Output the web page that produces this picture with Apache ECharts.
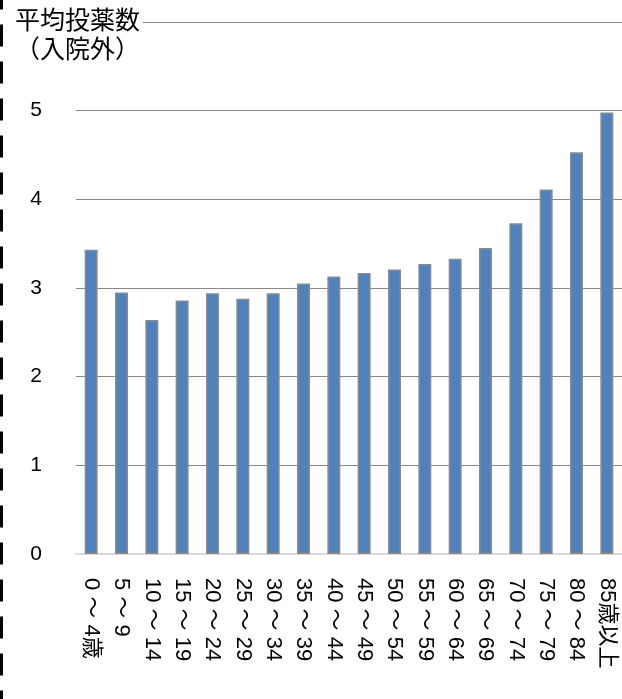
<!DOCTYPE html>
<html>
<head>
<meta charset="utf-8">
<script src="https://cdn.jsdelivr.net/npm/echarts@6/dist/echarts.min.js"></script>
<style>
  html, body { margin: 0; padding: 0; background: #fff; }
  #chart { width: 622px; height: 699px; }
</style>
</head>
<body>
<div id="chart"></div>
<script>
// 年齢階級別 平均投薬数（入院外）
const categories = ['0～4歳', '5～9', '10～14', '15～19', '20～24', '25～29', '30～34', '35～39', '40～44',
  '45～49', '50～54', '55～59', '60～64', '65～69', '70～74', '75～79', '80～84', '85歳以上']
const values = [3.43, 2.95, 2.64, 2.86, 2.94, 2.88, 2.94, 3.05, 3.13,
  3.17, 3.21, 3.27, 3.33, 3.45, 3.73, 4.11, 4.53, 4.98]
const yTicks = [0, 1, 2, 3, 4, 5] // 6 は軸の上端（ラベルなし）

const font = '"Liberation Sans", "Noto Sans CJK JP", sans-serif'
const myChart = echarts.init(document.getElementById('chart'))

const option = {
  backgroundColor: '#fff',
  animation: false,
  title: {
    text: '平均投薬数\n（入院外）',
    left: 12,
    top: 5,
    z: 10,
    padding: [0, 3, 0, 3],
    backgroundColor: '#fff',
    textStyle: {
      color: '#000',
      fontFamily: '"Noto Sans CJK JP", sans-serif',
      fontSize: 25,
      fontWeight: 'normal',
      lineHeight: 29
    }
  },
  grid: {
    left: 76,
    top: 22,
    width: 553,
    height: 532
  },
  xAxis: {
    type: 'category',
    data: categories,
    axisLine: { show: true, lineStyle: { color: '#d9d9d9', width: 2 } },
    axisTick: { show: false },
    axisLabel: {
      interval: 0,
      rotate: -90,
      margin: 24,
      color: '#000',
      fontFamily: font,
      fontSize: 22,
      formatter: function (value) {
        return value.replace('～', ' ～ ')
      }
    }
  },
  yAxis: {
    type: 'value',
    min: 0,
    max: 6,
    interval: 1,
    axisLine: { show: false },
    axisTick: { show: false },
    axisLabel: {
      margin: 34,
      color: '#000',
      fontFamily: font,
      fontSize: 21,
      formatter: function (v) {
        return yTicks.indexOf(v) >= 0 ? String(v) : ''
      }
    },
    splitLine: { show: true, lineStyle: { color: '#888', width: 1 } }
  },
  series: [
    {
      type: 'bar',
      data: values,
      barWidth: 13,
      itemStyle: {
        color: '#4f81bd',
        borderColor: '#8a8a8a',
        borderWidth: 1.5
      }
    }
  ],
  graphic: [
    {
      type: 'line',
      shape: { x1: 1.5, y1: 0, x2: 1.5, y2: 699 },
      style: { stroke: '#000', lineWidth: 3, lineDash: [22, 15], lineDashOffset: 12.5 },
      z: 20
    }
  ]
}
myChart.setOption(option)
</script>
</body>
</html>
